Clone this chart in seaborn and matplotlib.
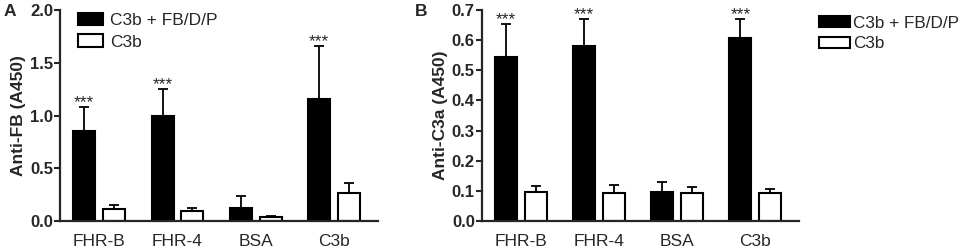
import numpy as np
import pandas as pd
import matplotlib
matplotlib.use("Agg")
import matplotlib.pyplot as plt
import seaborn as sns
from matplotlib.patches import Patch

# categories and groups
targets = ["FHR-B", "FHR-4", "BSA", "C3b"]
conditions = ["C3b + FB/D/P", "C3b"]

# panel A - anti-FB
fb_full = [0.85, 1.00, 0.125, 1.155]
fb_full_err = [0.23, 0.255, 0.115, 0.50]
fb_c3b = [0.11, 0.10, 0.035, 0.27]
fb_c3b_err = [0.04, 0.025, 0.01, 0.09]
fb_sig = ["***", "***", "", "***"]

# panel B - anti-C3a
c3a_full = [0.545, 0.581, 0.097, 0.608]
c3a_full_err = [0.108, 0.088, 0.031, 0.061]
c3a_c3b = [0.095, 0.094, 0.092, 0.094]
c3a_c3b_err = [0.021, 0.025, 0.022, 0.012]
c3a_sig = ["***", "***", "", "***"]


def draw_panel(ax, full, full_err, c3b, c3b_err, sig, ylim, step, ylabel):
    df = pd.DataFrame({
        "target": targets * 2,
        "condition": [conditions[0]] * 4 + [conditions[1]] * 4,
        "value": full + c3b,
    })
    sns.barplot(ax=ax, data=df, x="target", y="value", hue="condition",
                hue_order=conditions, order=targets,
                palette=["black", "white"], edgecolor="black", linewidth=1.5,
                width=0.76, gap=0.26, errorbar=None, legend=False)

    # upper-only error bars and significance stars
    for cont, means, errs in zip(ax.containers, [full, c3b], [full_err, c3b_err]):
        xs = [b.get_x() + b.get_width() / 2 for b in cont]
        ax.errorbar(xs, means, yerr=[np.zeros(len(errs)), errs], fmt="none",
                    ecolor="black", elinewidth=1.3, capsize=3.5, capthick=1.3,
                    zorder=1)
    black_bars = ax.containers[0]
    for b, m, e, s in zip(black_bars, full, full_err, sig):
        if s:
            ax.annotate(s, xy=(b.get_x() + b.get_width() / 2, m + e),
                        xytext=(0, -2.2), textcoords="offset points",
                        ha="center", va="bottom", fontsize=12.5,
                        annotation_clip=False)

    ax.set_xlim(-0.5, 3.56)
    ax.set_ylim(*ylim)
    ax.set_yticks(np.arange(ylim[0], ylim[1] + step / 2, step))
    ax.set_xlabel("")
    ax.set_ylabel(ylabel, fontsize=12.5, fontweight="bold", labelpad=3)
    sns.despine(ax=ax)
    for sp in ["left", "bottom"]:
        ax.spines[sp].set_linewidth(1.6)
    ax.tick_params(axis="y", length=4.5, width=1.5, pad=0.5, labelsize=12)
    for lab in ax.get_yticklabels():
        lab.set_fontweight("bold")
    ax.tick_params(axis="x", length=0, pad=9, labelsize=12.5)


sns.set_style("ticks")
plt.rcParams["font.family"] = ["Liberation Sans", "DejaVu Sans"]

fig = plt.figure(figsize=(9.65, 2.47), dpi=100)
axA = fig.add_axes([0.0622, 0.105, 0.3295, 0.8545])
axB = fig.add_axes([0.4992, 0.105, 0.3288, 0.8545])

draw_panel(axA, fb_full, fb_full_err, fb_c3b, fb_c3b_err, fb_sig,
           (0, 2.0), 0.5, "Anti-FB (A450)")
draw_panel(axB, c3a_full, c3a_full_err, c3a_c3b, c3a_c3b_err, c3a_sig,
           (0, 0.7), 0.1, "Anti-C3a (A450)")

handles = [Patch(facecolor="black", edgecolor="black", linewidth=1.5),
           Patch(facecolor="white", edgecolor="black", linewidth=1.5)]
axA.legend(handles, conditions, loc="upper left", bbox_to_anchor=(0.035, 1.02),
           frameon=False, fontsize=12.5, handlelength=1.45, handleheight=0.7,
           handletextpad=0.4, labelspacing=0.38, borderaxespad=0)
axB.legend(handles, conditions, loc="upper left", bbox_to_anchor=(1.041, 1.005),
           frameon=False, fontsize=12.3, handlelength=1.8, handleheight=0.6,
           handletextpad=0.22, labelspacing=0.32, borderaxespad=0)

fig.text(0.004, 0.985, "A", fontsize=12.5, fontweight="bold", va="top")
fig.text(0.430, 0.985, "B", fontsize=12.5, fontweight="bold", va="top")

fig.savefig("out.png", dpi=100, facecolor="white")
